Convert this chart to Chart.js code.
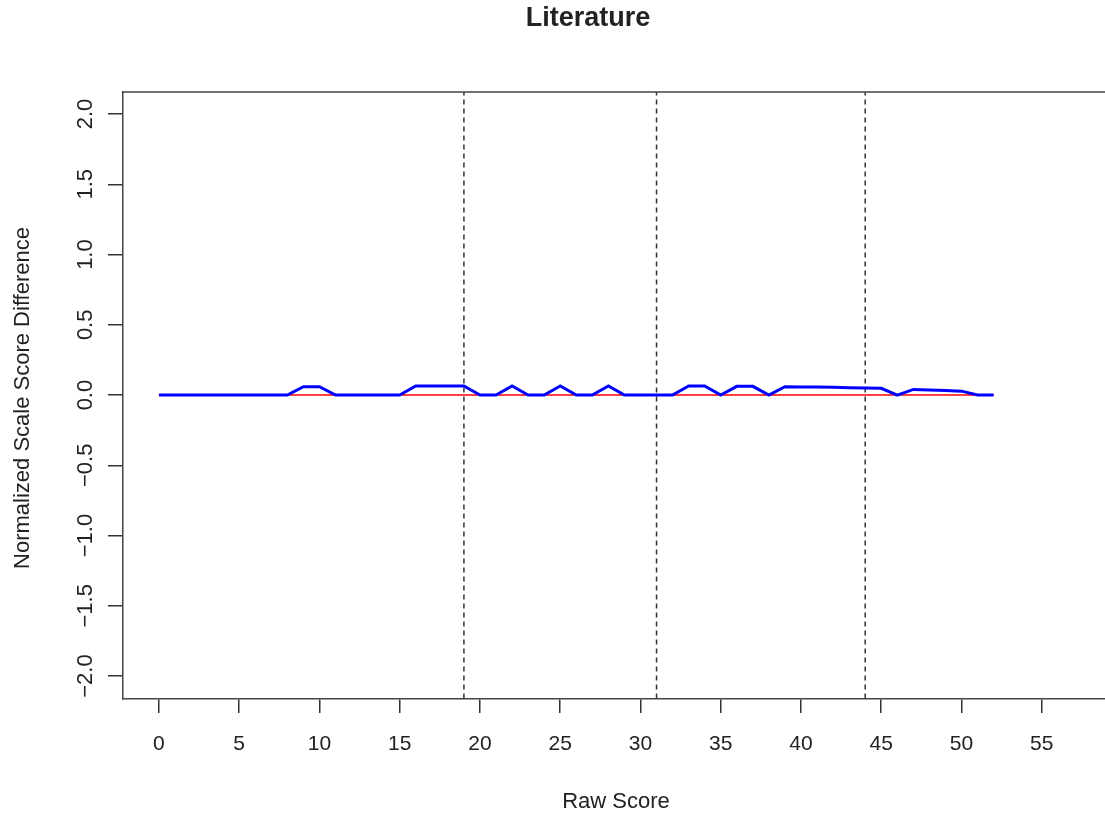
<!DOCTYPE html>
<html>
<head>
<meta charset="utf-8">
<script src="https://cdn.jsdelivr.net/npm/chart.js@4/dist/chart.umd.min.js"></script>
<style>
  html, body { margin: 0; padding: 0; background: #fff; }
  #wrap { position: relative; width: 1105px; height: 819px; }
</style>
</head>
<body>
<div id="wrap"><canvas id="c" width="1105" height="819"></canvas></div>
<script>
'use strict';

// data
const rawScores = [];
for (let i = 0; i <= 52; i++) rawScores.push(i);
const scoreDiff = [
    0, 0, 0, 0, 0, 0, 0, 0, 0, 0.06,
    0.06, 0, 0, 0, 0, 0, 0.065, 0.065, 0.065, 0.065,
    0, 0, 0.065, 0, 0, 0.065, 0, 0, 0.065, 0,
    0, 0, 0, 0.065, 0.065, 0, 0.062, 0.062, 0, 0.06,
    0.058, 0.057, 0.055, 0.053, 0.05, 0.048, 0, 0.04, 0.037, 0.033,
    0.028, 0, 0
];
const cutScores = [19, 31, 44];
const xTicks = [0, 5, 10, 15, 20, 25, 30, 35, 40, 45, 50, 55];
const yTicks = [-2, -1.5, -1, -0.5, 0, 0.5, 1, 1.5, 2];
const yTickLabels = ['\u22122.0', '\u22121.5', '\u22121.0', '\u22120.5', '0.0', '0.5', '1.0', '1.5', '2.0'];

const FONT = '"Liberation Sans", Arial, sans-serif';
const INK = '#222';

const datasets = [
    {
        data: rawScores.map((x) => ({x, y: 0})),
        borderColor: '#ff0000',
        borderWidth: 1.5,
        pointRadius: 0,
        order: 2
    },
    {
        data: rawScores.map((x, i) => ({x, y: scoreDiff[i]})),
        borderColor: '#0000ff',
        borderWidth: 3,
        pointRadius: 0,
        order: 1
    }
];
for (const c of cutScores)
{
    datasets.push({
        data: [{x: c, y: -2.16}, {x: c, y: 2.16}],
        borderColor: '#333',
        borderWidth: 1.5,
        borderDash: [5, 4],
        pointRadius: 0,
        order: 3
    });
}

// texts, frame and y labels drawn by hand (R style)
const decor = {
    id: 'decor',
    afterDraw (chart)
    {
        const ctx = chart.ctx;
        const a = chart.chartArea;
        const y = chart.scales.y;
        ctx.save();
        // top frame line
        ctx.strokeStyle = '#444';
        ctx.lineWidth = 1.5;
        ctx.beginPath();
        ctx.moveTo(a.left, a.top);
        ctx.lineTo(a.right, a.top);
        ctx.stroke();

        ctx.fillStyle = INK;
        ctx.textAlign = 'center';
        ctx.textBaseline = 'middle';
        // y tick labels, rotated
        ctx.font = '22px ' + FONT;
        yTicks.forEach((v, i) =>
        {
            ctx.save();
            ctx.translate(86, y.getPixelForValue(v));
            ctx.rotate(-Math.PI / 2);
            ctx.fillText(yTickLabels[i], 0, 0);
            ctx.restore();
        });
        // title
        ctx.font = 'bold 27px ' + FONT;
        ctx.fillText('Literature', 588, 19);
        // axis titles
        ctx.font = '22px ' + FONT;
        ctx.fillText('Raw Score', 616, 802);
        ctx.save();
        ctx.translate(23, 398);
        ctx.rotate(-Math.PI / 2);
        ctx.fillText('Normalized Scale Score Difference', 0, 0);
        ctx.restore();
        ctx.restore();
    }
};

new Chart(document.getElementById('c').getContext('2d'), {
    type: 'line',
    data: {datasets},
    options: {
        responsive: false,
        animation: false,
        layout: {padding: {top: 92, right: 0, left: 0, bottom: 0}},
        plugins: {legend: {display: false}, tooltip: {enabled: false}},
        elements: {line: {tension: 0}},
        scales: {
            x: {
                type: 'linear',
                min: -2.24,
                max: 58.94,
                afterBuildTicks: (s) => { s.ticks = xTicks.map((value) => ({value})); },
                afterFit: (s) => { s.height = 120; },
                grid: {drawOnChartArea: false, drawTicks: true, tickLength: 14, color: '#333', lineWidth: 1.5},
                border: {display: true, color: '#444', width: 1.5},
                ticks: {color: INK, font: {family: FONT, size: 21}, padding: 19, maxRotation: 0, autoSkip: false}
            },
            y: {
                type: 'linear',
                min: -2.163,
                max: 2.157,
                afterBuildTicks: (s) => { s.ticks = yTicks.map((value) => ({value})); },
                afterFit: (s) => { s.width = 123; },
                grid: {drawOnChartArea: false, drawTicks: true, tickLength: 15, color: '#333', lineWidth: 1.5},
                border: {display: true, color: '#444', width: 1.5},
                ticks: {display: false}
            }
        }
    },
    plugins: [decor]
});
</script>
</body>
</html>
